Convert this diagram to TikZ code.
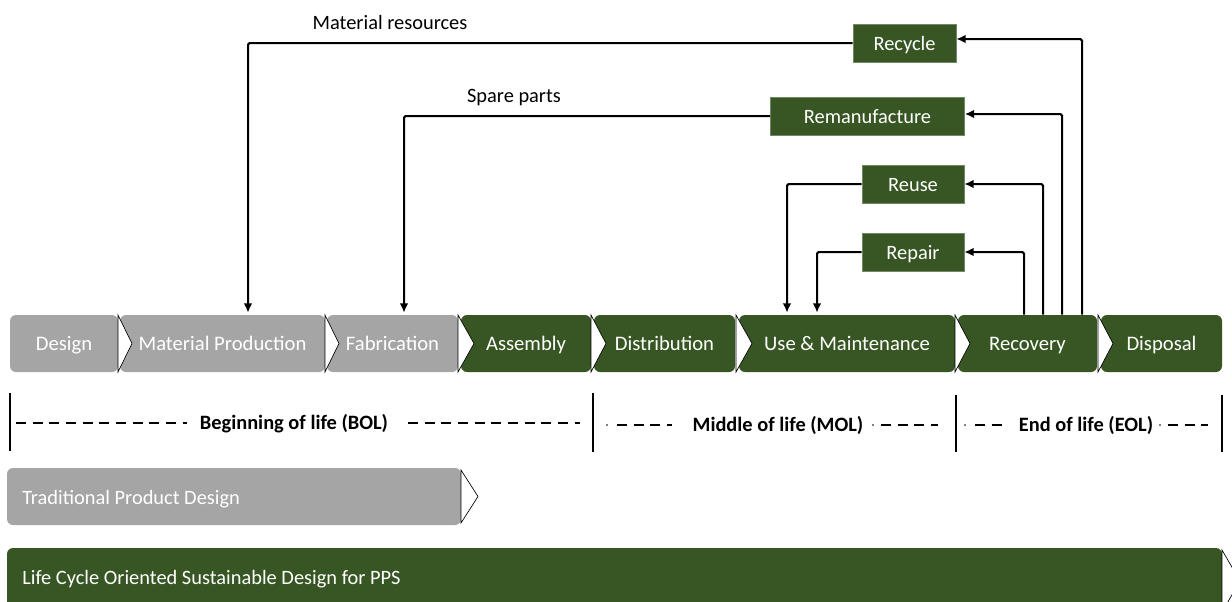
\documentclass[tikz,border=0pt]{standalone}
\usepackage{fontspec}
\setmainfont{Carlito}
\usetikzlibrary{arrows.meta,calc}
\definecolor{leaf}{HTML}{375623}
\definecolor{stone}{HTML}{A5A5A5}
\begin{document}
\begin{tikzpicture}[x=0.75pt,y=-0.75pt,
  stagebox/.style={rectangle, rounded corners=4.5pt, minimum height=57*0.75pt,
    inner sep=0pt, text=white, text height=12.5pt, text depth=1.5pt,
    font=\fontsize{15.5}{18}\selectfont},
  greystage/.style={stagebox, fill=stone},
  greenstage/.style={stagebox, fill=leaf},
  loopbox/.style={rectangle, fill=leaf, draw=leaf!70!white, line width=0.4pt,
    minimum height=38*0.75pt, inner sep=0pt, text=white,
    text height=12.5pt, text depth=1.5pt,
    font=\fontsize{15.3}{18}\selectfont},
  notch/.style={fill=white, draw=black, line width=0.5pt, line join=miter},
  flow/.style={draw=black, line width=1.5pt, rounded corners=1.2pt,
    -{Latex[length=7pt,width=6.5pt]}},
  phasebar/.style={draw=black, line width=1.5pt},
  phasedash/.style={draw=black, line width=1.8pt, dash pattern=on 7.5pt off 5pt},
  phasetext/.style={font=\bfseries\fontsize{15.3}{18}\selectfont, inner sep=0pt,
    text height=12.5pt, text depth=1.5pt},
  flowlabel/.style={font=\fontsize{15.3}{18}\selectfont, inner sep=0pt},
  bandtext/.style={anchor=west, inner sep=0pt, text=white,
    text height=12.5pt, text depth=1.5pt,
    font=\fontsize{15.3}{18}\selectfont}]
\useasboundingbox (0,0) rectangle (1232,601);

% life cycle stages
\node[greystage, minimum width=108*0.75pt] (design) at (64,343.5) {Design};
\node[greystage, minimum width=205*0.75pt] (matprod) at (222.5,343.5) {Material Production};
\node[greystage, minimum width=131*0.75pt] (fab) at (392.5,343.5) {Fabrication};
\node[greenstage, minimum width=130*0.75pt] (assembly) at (526,343.5) {Assembly};
\node[greenstage, minimum width=141*0.75pt] (distribution) at (664.5,343.5) {Distribution};
\node[greenstage, minimum width=216*0.75pt] (use) at (847,343.5) {Use \& Maintenance};
\node[greenstage, minimum width=139*0.75pt] (recovery) at (1027.5,343.5) {Recovery};
\node[greenstage, minimum width=121*0.75pt] (disposal) at (1161.5,343.5) {Disposal};

% chevron notches between stages
\foreach \xa/\xb in {118/132, 325/339, 458/474, 591/606, 736/752, 955/970, 1098/1113}
  \draw[notch] (\xa,315) -- (\xb,343.5) -- (\xa,372) -- cycle;

% recovery loops
\node[loopbox, minimum width=103*0.75pt] (recycle) at (904.5,43) {Recycle};
\node[loopbox, minimum width=194*0.75pt] (reman) at (867.5,116) {Remanufacture};
\node[loopbox, minimum width=102*0.75pt] (reuse) at (913,184) {Reuse};
\node[loopbox, minimum width=102*0.75pt] (repair) at (913,252) {Repair};

\draw[flow] (recycle.west) -| ($(matprod.north)+(25.5,-2)$);
\draw[flow] (reman.west) -| ($(fab.north)+(11.5,-2)$);
\draw[flow] (reuse.west) -| ($(use.north)+(-60,-2)$);
\draw[flow] (repair.west) -| ($(use.north)+(-30,-2)$);
\draw[flow] ($(recovery.north)+(-3.5,0)$) |- (repair.east);
\draw[flow] ($(recovery.north)+(15.5,0)$) |- (reuse.east);
\draw[flow] ($(recovery.north)+(34.5,0)$) |- ($(reman.east)+(0,-2)$);
\draw[flow] ($(recovery.north)+(54.5,0)$) |- ($(recycle.east)+(0,-4)$);

\node[flowlabel] (matres) at (390,22) {Material resources};
\node[flowlabel] (spare) at (514,98) {Spare parts};

% life phases
\draw[phasebar] (10,393) -- (10,451);
\draw[phasebar] (593,393) -- (593,452);
\draw[phasebar] (956,395) -- (956,452);
\draw[phasebar] (1222,395) -- (1222,452);

\node[phasetext] (bol) at (294,422) {Beginning of life (BOL)};
\draw[phasedash] (16,423) -- (187,423);
\draw[phasedash] (408,423) -- (580,423);

\node[phasetext] (mol) at (778,424) {Middle of life (MOL)};
\fill (607,425) circle (0.8);
\draw[phasedash] (617,425) -- (672,425);
\fill (873,425) circle (0.8);
\draw[phasedash] (881,425) -- (938,425);

\node[phasetext] (eol) at (1086,424) {End of life (EOL)};
\fill (965,425) circle (0.8);
\draw[phasedash] (975,425) -- (1008,425);
\fill (1160,425) circle (0.8);
\draw[phasedash] (1168,425) -- (1208,425);

% design approaches
\fill[stone, rounded corners=4.5pt] (7,468) rectangle (461,525);
\draw[notch] (461,470) -- (478,496.5) -- (461,523) -- cycle;
\node[bandtext] (trad) at (22,497) {Traditional Product Design};

\fill[leaf, rounded corners=4.5pt] (7,548) rectangle (1222,612);
\draw[notch] (1222,550) -- (1240,581) -- (1222,612) -- cycle;
\node[bandtext] (lcosd) at (22,577) {Life Cycle Oriented Sustainable Design for PPS};
\end{tikzpicture}
\end{document}
